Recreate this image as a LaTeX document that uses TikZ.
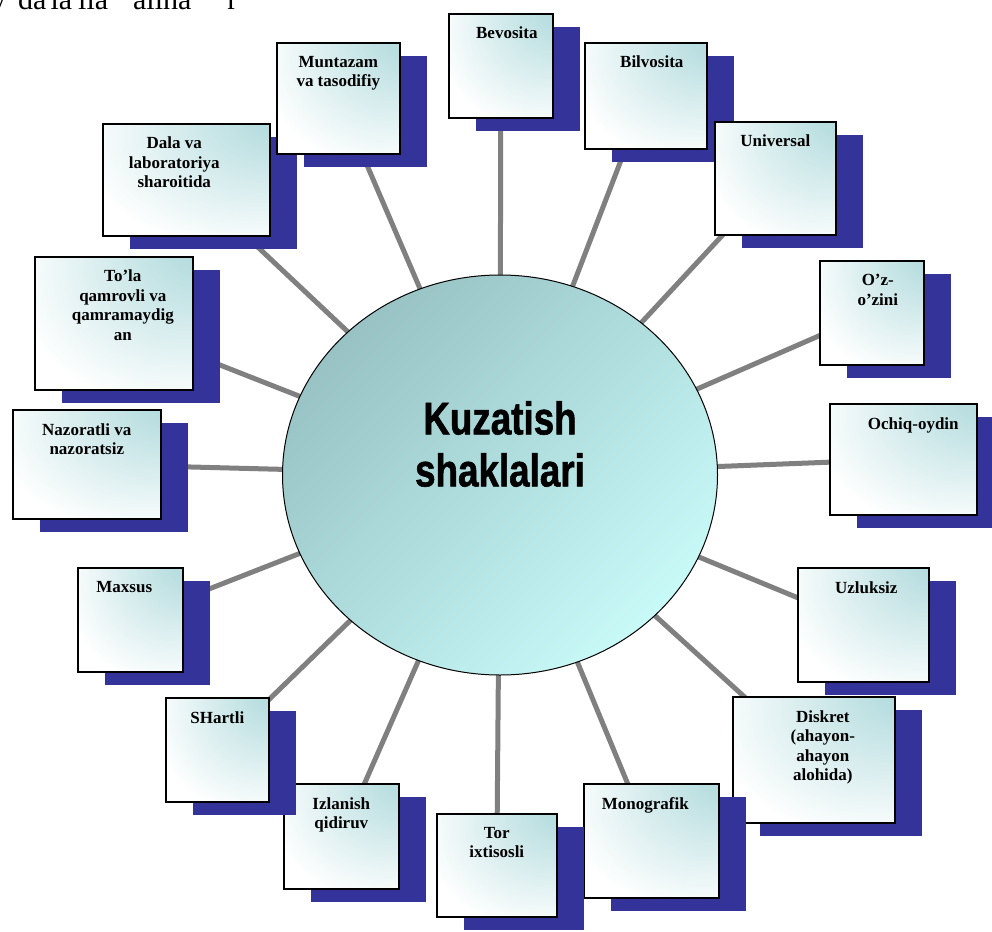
\documentclass[tikz,border=0pt]{standalone}
\usepackage{fontspec}
\setmainfont{Liberation Serif}
\newfontfamily\titlefont{Liberation Sans}[FakeStretch=0.8,FakeBold=1.2]
\usetikzlibrary{shapes.geometric,shadows,backgrounds}

\definecolor{boxteal}{RGB}{182,221,223}
\definecolor{shadowblue}{RGB}{51,51,153}
\definecolor{spokegray}{RGB}{128,128,128}
\definecolor{hubdark}{RGB}{152,194,196}
\definecolor{hublight}{RGB}{200,250,248}

\pgfdeclareradialshading{formshade}{\pgfpoint{32bp}{32bp}}{color(0bp)=(boxteal);color(8bp)=(boxteal);color(48bp)=(white);color(100bp)=(white)}

\begin{document}
\begin{tikzpicture}[x=1pt,y=-1pt]
  \tikzstyle{form}=[draw=black,line width=1.6pt,anchor=north west,inner sep=0pt,shading=formshade,
                    drop shadow={shadow xshift=27pt,shadow yshift=-13pt,fill=shadowblue,opacity=1}]
  \tikzstyle{lbl}=[font=\bfseries\fontsize{17}{19.5}\selectfont,align=center,
                   inner sep=0pt,anchor=north,yshift=-14pt]
  \tikzstyle{spoke}=[draw=spokegray,line width=5pt]

  \useasboundingbox (0,0) rectangle (992,931);

  % cut line of the page text
  \node[anchor=base west,inner sep=0pt,font=\fontsize{30}{34}\selectfont] (cut) at (-9,10)
    {y\hspace{12pt}da\hspace{4pt}la\hspace{6pt}lia\hspace{25pt}aliha\hspace{36pt}r};

  % centre
  \node[ellipse,draw=black,line width=1pt,minimum width=435pt,minimum height=400pt,
        top color=hubdark,bottom color=hublight,shading angle=45] (hub) at (500,475) {};
  \node[align=center,font=\titlefont\bfseries\fontsize{46}{52}\selectfont] (title) at (500,444) {Kuzatish\\shaklalari};

  % forms
  \node[form,minimum width=104pt,minimum height=104pt,label={[lbl,xshift=6pt]north:Bevosita}] (bev) at (448,13) {};
  \node[form,minimum width=122pt,minimum height=106pt,label={[lbl,xshift=6pt]north:Bilvosita}] (bil) at (584,42) {};
  \node[form,minimum width=121pt,minimum height=113pt,label={[lbl]north:Universal}] (uni) at (714,121) {};
  \node[form,minimum width=104pt,minimum height=104pt,label={[lbl,xshift=6pt]north:O’z-\\o’zini}] (ozo) at (819,260) {};
  \node[form,minimum width=147pt,minimum height=111pt,label={[lbl,xshift=10pt]north:Ochiq-oydin}] (och) at (829,403) {};
  \node[form,minimum width=131pt,minimum height=114pt,label={[lbl,xshift=3pt]north:Uzluksiz}] (uzl) at (797,567) {};
  \node[form,minimum width=162pt,minimum height=126pt,label={[lbl,xshift=9pt]north:Diskret\\(ahayon-\\ahayon\\alohida)}] (dis) at (732,696) {};
  \node[form,minimum width=135pt,minimum height=114pt,label={[lbl,xshift=-6pt]north:Monografik}] (mon) at (583,783) {};
  \node[form,minimum width=120pt,minimum height=103pt,label={[lbl]north:Tor\\ixtisosli}] (tor) at (436,813) {};
  \node[form,minimum width=115pt,minimum height=105pt,label={[lbl]north:Izlanish\\qidiruv}] (izl) at (283,783) {};
  \node[form,minimum width=103pt,minimum height=104pt,label={[lbl]north:SHartli}] (sha) at (165,697) {};
  \node[form,minimum width=105pt,minimum height=104pt,label={[lbl,xshift=-6pt]north:Maxsus}] (max) at (77,567) {};
  \node[form,minimum width=148pt,minimum height=109pt,label={[lbl]north:Nazoratli va\\nazoratsiz}] (naz) at (12,409) {};
  \node[form,minimum width=158pt,minimum height=133pt,label={[lbl,xshift=9pt]north:To’la\\qamrovli va\\qamramaydig\\an}] (tol) at (34,256) {};
  \node[form,minimum width=167pt,minimum height=112pt,label={[lbl,xshift=-12pt]north:Dala va\\laboratoriya\\sharoitida}] (dal) at (102,123) {};
  \node[form,minimum width=123pt,minimum height=111pt,label={[lbl]north:Muntazam\\va tasodifiy}] (mun) at (276,42) {};

  \begin{scope}[on background layer]
    \foreach \f in {bev,bil,uni,ozo,och,uzl,dis,mon,tor,izl,sha,max,naz,tol,dal,mun}
      \draw[spoke] (hub.center) -- (\f.center);
  \end{scope}
\end{tikzpicture}
\end{document}
